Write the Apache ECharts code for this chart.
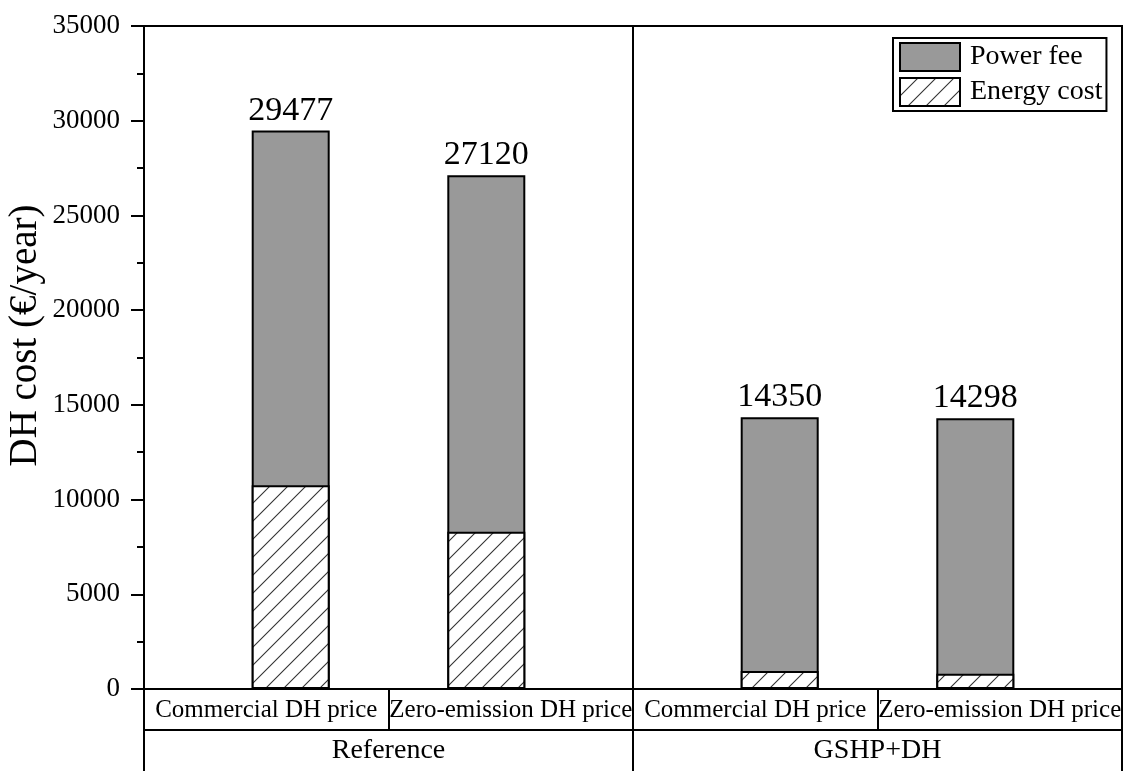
<!DOCTYPE html>
<html>
<head>
<meta charset="utf-8">
<title>DH cost</title>
<script src="https://cdn.jsdelivr.net/npm/echarts@6/dist/echarts.min.js"></script>
<style>
  html, body { margin: 0; padding: 0; background: #fff; }
  #chart { width: 1125px; height: 771px; }
</style>
</head>
<body>
<div id="chart"></div>
<script>
// data
const subCategories = ['Commercial DH price', 'Zero-emission DH price', 'Commercial DH price', 'Zero-emission DH price']
const groups = ['Reference', 'GSHP+DH']
const barPositions = [1, 2, 3.5, 4.5]
const totals = [29477, 27120, 14350, 14298]
const energyCost = [10750, 8300, 950, 800]
// power fee is the grey part on top: total - energy cost

const FONT = "'Liberation Serif', 'Times New Roman', serif"

// diagonal "/" hatch used for energy cost
const makeHatch = () => {
  const s = 18
  const c = document.createElement('canvas')
  c.width = s
  c.height = s
  const ctx = c.getContext('2d')
  ctx.fillStyle = '#fff'
  ctx.fillRect(0, 0, s, s)
  ctx.strokeStyle = '#333'
  ctx.lineWidth = 1.1
  ctx.beginPath()
  ctx.moveTo(0, s); ctx.lineTo(s, 0)
  ctx.moveTo(-s / 2, s / 2); ctx.lineTo(s / 2, -s / 2)
  ctx.moveTo(s / 2, s * 1.5); ctx.lineTo(s * 1.5, s / 2)
  ctx.stroke()
  return c
}

const chart = echarts.init(document.getElementById('chart'))

const blackLine = { color: '#000', width: 2 }

const option = {
  backgroundColor: '#fff',
  animation: false,
  textStyle: { fontFamily: FONT, color: '#000' },
  grid: {
    left: 144,
    right: 3,
    top: 26,
    bottom: 82,
    outerBoundsMode: 'none',
    show: true,
    borderColor: '#000',
    borderWidth: 2,
  },
  legend: {
    orient: 'vertical',
    left: 893,
    top: 38,
    data: ['Power fee', 'Energy cost'],
    icon: 'rect',
    itemWidth: 60,
    itemHeight: 28,
    itemGap: 5,
    padding: [4, 4, 4, 6],
    borderColor: '#000',
    borderWidth: 2,
    textStyle: { fontFamily: FONT, fontSize: 28, color: '#000', padding: [0, 0, 0, 5] },
  },
  xAxis: [
    {
      type: 'value',
      min: 0.25,
      max: 5.25,
      show: false,
      position: 'bottom',
    },
    {
      type: 'category',
      data: subCategories,
      position: 'bottom',
      offset: 0,
      axisLine: { show: true, lineStyle: blackLine },
      axisTick: { show: true, interval: 0, length: 41, lineStyle: blackLine },
      axisLabel: { interval: 0, margin: 9, fontFamily: FONT, fontSize: 25, color: '#000' },
      splitLine: { show: false },
    },
    {
      type: 'category',
      data: groups,
      position: 'bottom',
      offset: 41,
      axisLine: { show: true, lineStyle: blackLine },
      axisTick: { show: true, interval: 0, length: 41, lineStyle: blackLine },
      axisLabel: { interval: 0, margin: 7, fontFamily: FONT, fontSize: 28, color: '#000' },
      splitLine: { show: true, interval: 0, lineStyle: blackLine },
    },
  ],
  yAxis: {
    type: 'value',
    min: 0,
    max: 35000,
    interval: 5000,
    name: 'DH cost (€/year)',
    nameLocation: 'middle',
    nameGap: 99,
    nameMoveOverlap: false,
    nameTextStyle: { fontFamily: FONT, fontSize: 39, color: '#000', padding: [0, 0, 0, 44] },
    axisLine: { show: true, lineStyle: blackLine },
    axisTick: { show: true, length: 13, lineStyle: blackLine },
    minorTick: { show: true, splitNumber: 2, length: 7, lineStyle: blackLine },
    axisLabel: {
      margin: 24,
      fontFamily: FONT,
      fontSize: 27,
      color: '#000',
      formatter: (v) => String(v),
    },
    splitLine: { show: false },
  },
  series: [
    {
      // full bar = total; the hatched energy part is drawn over its bottom
      name: 'Power fee',
      type: 'bar',
      barWidth: 78,
      barGap: '-100%',
      xAxisIndex: 0,
      z: 2,
      data: barPositions.map((x, i) => [x, totals[i]]),
      itemStyle: {
        color: '#999999',
        borderColor: '#000',
        borderWidth: 2,
      },
      label: {
        show: true,
        position: 'top',
        distance: 3,
        formatter: (p) => String(totals[p.dataIndex]),
        fontFamily: FONT,
        fontSize: 34,
        color: '#000',
      },
    },
    {
      name: 'Energy cost',
      type: 'bar',
      barWidth: 78,
      barGap: '-100%',
      xAxisIndex: 0,
      z: 3,
      data: barPositions.map((x, i) => [x, energyCost[i]]),
      itemStyle: {
        color: { image: makeHatch(), repeat: 'repeat' },
        borderColor: '#000',
        borderWidth: 2,
      },
    },
  ],
}

chart.setOption(option)
</script>
</body>
</html>
